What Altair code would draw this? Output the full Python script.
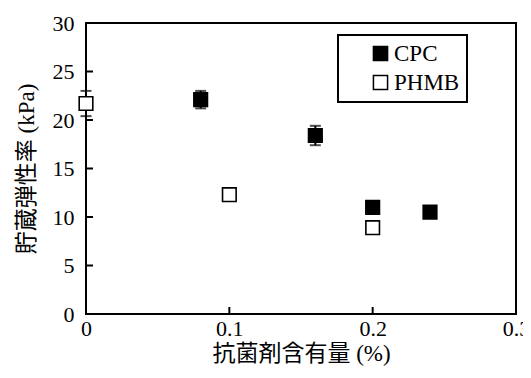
import altair as alt
import pandas as pd

series = ["CPC", "CPC", "CPC", "CPC", "PHMB", "PHMB", "PHMB"]
content = [0.08, 0.16, 0.20, 0.24, 0.00, 0.10, 0.20]
modulus = [22.1, 18.4, 11.0, 10.5, 21.7, 12.3, 8.9]
err = [0.9, 1.0, 0.0, 0.0, 1.3, 0.0, 0.0]
x_ticks = [0, 0.1, 0.2, 0.3]
y_ticks = [0, 5, 10, 15, 20, 25, 30]

W, H = 430, 291

df = pd.DataFrame({"series": series, "x": content, "y": modulus, "e": err})
df["lo"] = df["y"] - df["e"]
df["hi"] = df["y"] + df["e"]
eb = df[df["e"] > 0]
caps = pd.concat([eb.assign(cy=eb["lo"]), eb.assign(cy=eb["hi"])])
xt = pd.DataFrame({"v": x_ticks})
yt = pd.DataFrame({"v": y_ticks})

serif = "Liberation Serif"
mixed = "Liberation Serif, Noto Sans CJK JP"

xs = alt.Scale(domain=[0, 0.3], nice=False)
ys = alt.Scale(domain=[0, 30], nice=False)

xax = alt.Axis(values=x_ticks, format="~g", ticks=False, domain=False, grid=False,
               labelPadding=4, labelFont=serif, labelFontSize=22, labelColor="black",
               labelFlush=False, title="抗菌剤含有量 (%)", titleFont=mixed, titleFontSize=23,
               titleFontWeight="normal", titleColor="black", titlePadding=3)
yax = alt.Axis(values=y_ticks, ticks=False, domain=False, grid=False,
               labelPadding=12, labelFont=serif, labelFontSize=22, labelColor="black",
               labelFlush=False, title="貯蔵弾性率 (kPa)", titleFont=mixed, titleFontSize=23,
               titleFontWeight="normal", titleColor="black", titlePadding=14)

X = lambda f: alt.X(f, scale=xs, axis=xax)
Y = lambda f: alt.Y(f, scale=ys, axis=yax)

ytick_layer = alt.Chart(yt).mark_rule(color="black", strokeWidth=2).encode(
    y=Y("v:Q"), x=alt.value(0), x2=alt.value(7))
xtick_layer = alt.Chart(xt).mark_rule(color="black", strokeWidth=2).encode(
    x=X("v:Q"), y=alt.value(H - 7), y2=alt.value(H))

rules = alt.Chart(eb).mark_rule(color="black", strokeWidth=2).encode(
    x=X("x:Q"), y=Y("lo:Q"), y2="hi:Q")
capm = alt.Chart(caps).mark_tick(color="black", orient="horizontal", size=11, thickness=2).encode(
    x=X("x:Q"), y=Y("cy:Q"))

points = alt.Chart(df).mark_point(shape="square", size=185, strokeWidth=1.6, stroke="black",
                                  opacity=1, filled=False).encode(
    x=X("x:Q"), y=Y("y:Q"),
    fill=alt.Fill("series:N", scale=alt.Scale(domain=["CPC", "PHMB"], range=["black", "white"]),
                  legend=alt.Legend(orient="none", legendX=252, legendY=12, title=None,
                                    strokeColor="black", padding=7,
                                    symbolType="square", symbolSize=200, symbolStrokeColor="black",
                                    symbolStrokeWidth=1.5, labelFont=serif, labelFontSize=23,
                                    labelColor="black", labelOffset=2, symbolOffset=24,
                                    labelExpr="datum.label + '\u00a0\u00a0\u00a0\u00a0\u00a0'")),
)

chart = alt.layer(ytick_layer, xtick_layer, rules, capm, points).properties(
    width=W, height=H, background="white",
    autosize=alt.AutoSizeParams(type="none"),
    padding={"left": 78, "top": 15, "right": 7, "bottom": 56}
).configure_view(
    stroke="black", strokeWidth=2
).configure_legend(strokeWidth=2, rowPadding=5)

chart.save("out.html", embed_options={"renderer": "svg", "actions": False})
